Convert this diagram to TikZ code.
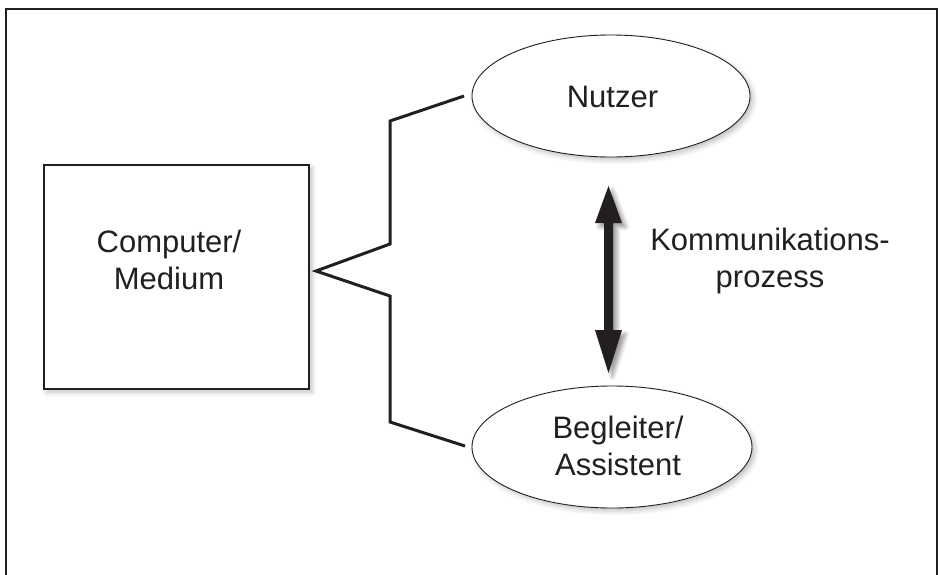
\documentclass[tikz,border=0pt]{standalone}
\usepackage{fontspec}
\setmainfont{Liberation Sans}
\usetikzlibrary{shapes.geometric, shadows.blur, calc}
\definecolor{ink}{HTML}{231F20}
\tikzset{
  lbl/.style={font=\fontsize{31pt}{37pt}\selectfont, text=ink, align=center, inner sep=0pt},
  softshadow/.style={blur shadow={shadow xshift=3pt, shadow yshift=-3pt, shadow blur radius=5pt, shadow opacity=25}},
  frame/.style={draw=ink, line width=1.5pt},
  boxshape/.style={draw=ink, line width=1.5pt, fill=white, softshadow, inner sep=0pt},
  ellshape/.style={ellipse, draw=ink, line width=0.9pt, fill=white, softshadow, inner sep=0pt},
  conn/.style={draw=ink, line width=3pt, line join=miter},
  bigarrow/.style={fill=ink, blur shadow={shadow xshift=4pt, shadow yshift=-4pt, shadow blur radius=4pt, shadow opacity=40}}
}
\begin{document}
\begin{tikzpicture}[x=1pt, y=-1pt]
\useasboundingbox (0,0) rectangle (940,574);
\clip (0,0) rectangle (940,574);
% outer frame (open at the bottom)
\draw[frame] (6,600) -- (6,9) -- (937,9) -- (937,600);

% box
\node[boxshape, minimum width=265pt, minimum height=224pt] (comp) at (176.5,277) {};
\node[lbl] (comptext) at (169,260) {Computer/\\Medium};

% ellipses
\node[ellshape, minimum width=278pt, minimum height=122pt] (nutzer) at (611,96) {};
\node[lbl] (nutzertext) at (612.5,97) {Nutzer};
\node[ellshape, minimum width=280pt, minimum height=122pt] (begl) at (612,447) {};
\node[lbl] (begltext) at (618,446) {Begleiter/\\Assistent};

% connectors
\coordinate (apex) at (316,271);
\coordinate (ua) at (390,244);
\coordinate (ub) at (390,121);
\coordinate (uc) at (464,96);
\coordinate (la) at (390,296);
\coordinate (lb) at (390,422);
\coordinate (lc) at (465,446);
\draw[conn] (uc) -- (ub) -- (ua) -- (apex) -- (la) -- (lb) -- (lc);

% double arrow
\coordinate (atop) at (608.5,186);
\coordinate (abot) at (608.5,373);
\path[bigarrow] (atop) -- ++(13.5,37) -- ++(-9,0) -- ($(abot)+(4.5,-43)$) -- ++(9,0) -- (abot)
  -- ++(-13.5,-43) -- ++(9,0) -- ($(atop)+(-4.5,37)$) -- ++(-9,0) -- cycle;

\node[lbl] (kp) at (770,261) {Kommunikations-\\prozess};
\end{tikzpicture}
\end{document}
